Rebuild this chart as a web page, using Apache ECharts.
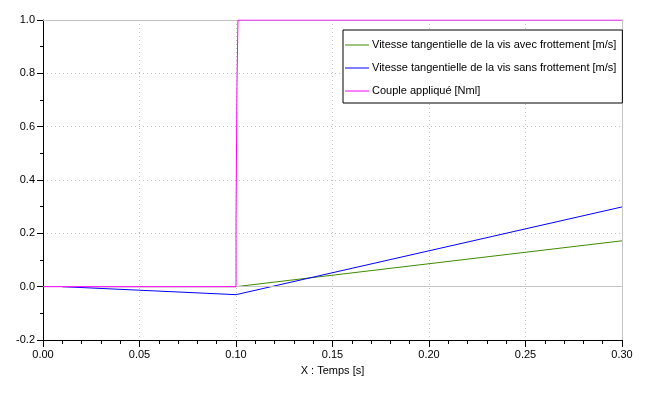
<!DOCTYPE html>
<html>
<head>
<meta charset="utf-8">
<script src="https://cdn.jsdelivr.net/npm/echarts@6/dist/echarts.min.js"></script>
<style>
html,body{margin:0;padding:0;background:#fff;}
#chart{width:661px;height:398px;}
</style>
</head>
<body>
<div id="chart"></div>
<script>
// noms des courbes
var nomAvec = 'Vitesse tangentielle de la vis avec frottement [m/s]';
var nomSans = 'Vitesse tangentielle de la vis sans frottement [m/s]';
var nomCouple = 'Couple appliqué [Nml]';
// points [temps, valeur]
var vitesseAvec = [[0.01, 0], [0.1, 0], [0.3, 0.172]];
var vitesseSans = [[0.01, 0], [0.1, -0.03], [0.3, 0.299]];
var couple = [[0, 0], [0.1, 0], [0.1, 0.25], [0.1005, 0.25], [0.1005, 0.75], [0.101, 0.75], [0.101, 1], [0.3, 1]];

var police = 'Liberation Sans';
var couleurs = ['#3f8a00', '#0000ff', '#ff00ff'];
var chart = echarts.init(document.getElementById('chart'));
var option = {
	animation: false,
	color: couleurs,
	grid: {left: 43, right: 39, top: 20, bottom: 58},
	legend: {
		orient: 'vertical',
		left: 343,
		top: 30,
		padding: [8, 6, 5, 2],
		itemGap: 9,
		itemWidth: 24,
		itemHeight: 1,
		icon: 'rect',
		backgroundColor: '#fff',
		borderColor: '#000',
		borderWidth: 1,
		textStyle: {color: '#000', fontFamily: police, fontSize: 11, lineHeight: 14, padding: [0, 0, 0, -2]},
		data: [nomAvec, nomSans, nomCouple]
	},
	xAxis: [{
		type: 'value',
		min: 0, max: 0.3, interval: 0.05,
		name: 'X : Temps [s]',
		nameLocation: 'middle',
		nameGap: 25,
		nameTextStyle: {color: '#000', fontFamily: police, fontSize: 11},
		axisLine: {show: true, onZero: false, lineStyle: {color: '#000', width: 1}},
		axisTick: {show: true, length: 7, lineStyle: {color: '#000'}},
		minorTick: {show: true, splitNumber: 5, length: 4, lineStyle: {color: '#000'}},
		axisLabel: {color: '#000', fontFamily: police, fontSize: 11, margin: 9,
			formatter: function(v){ return v.toFixed(2); }},
		splitLine: {show: true, lineStyle: {color: '#c4c4c4', type: [1, 3]}}
	}, {
		type: 'value', position: 'top',
		min: 0, max: 0.3, interval: 0.05,
		axisLine: {show: true, onZero: false, lineStyle: {color: '#c4c4c4'}},
		axisTick: {show: false}, axisLabel: {show: false}, splitLine: {show: false}
	}],
	yAxis: [{
		type: 'value',
		min: -0.2, max: 1.0, interval: 0.2,
		axisLine: {show: true, onZero: false, lineStyle: {color: '#000', width: 1}},
		axisTick: {show: true, length: 6, lineStyle: {color: '#000'}},
		minorTick: {show: true, splitNumber: 2, length: 3, lineStyle: {color: '#000'}},
		axisLabel: {color: '#000', fontFamily: police, fontSize: 11, margin: 8,
			formatter: function(v){ return v.toFixed(1); }},
		splitLine: {show: true, lineStyle: {color: '#c4c4c4', type: [1, 3]}}
	}, {
		type: 'value', position: 'right',
		min: -0.2, max: 1.0, interval: 0.2,
		axisLine: {show: true, onZero: false, lineStyle: {color: '#c4c4c4'}},
		axisTick: {show: false}, axisLabel: {show: false}, splitLine: {show: false}
	}],
	series: [{
		name: nomAvec,
		type: 'line',
		symbol: 'none',
		itemStyle: {color: couleurs[0]},
		lineStyle: {width: 1, color: couleurs[0]},
		data: vitesseAvec,
		markLine: {
			silent: true, symbol: 'none', label: {show: false},
			lineStyle: {color: '#c4c4c4', type: 'solid', width: 1},
			data: [{yAxis: 0}]
		},
		z: 3
	}, {
		name: nomSans,
		type: 'line',
		symbol: 'none',
		itemStyle: {color: couleurs[1]},
		lineStyle: {width: 1, color: couleurs[1]},
		data: vitesseSans,
		z: 4
	}, {
		name: nomCouple,
		type: 'line',
		symbol: 'none',
		itemStyle: {color: couleurs[2]},
		lineStyle: {width: 1, color: couleurs[2]},
		data: couple,
		z: 5
	}]
};
chart.setOption(option);
</script>
</body>
</html>
